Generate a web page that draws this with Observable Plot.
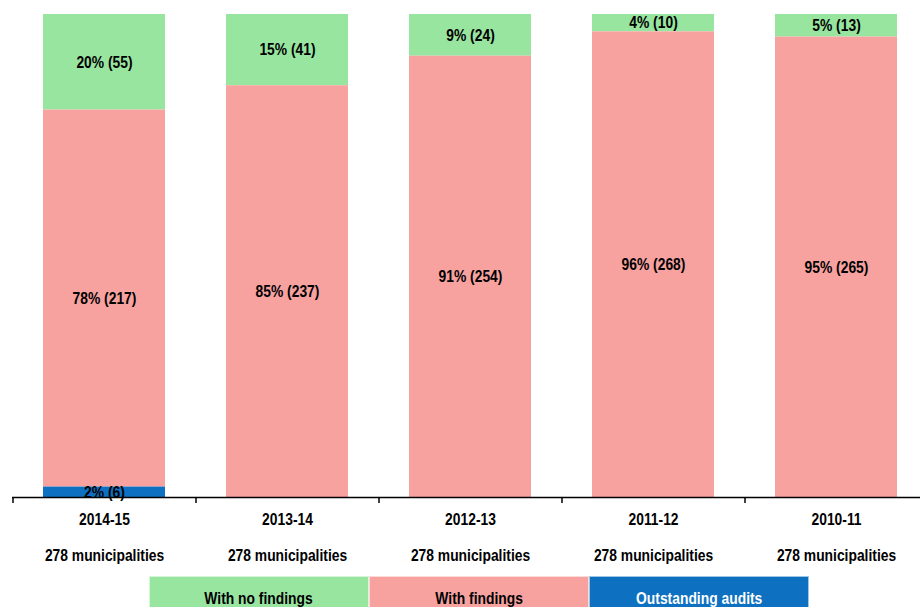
<!DOCTYPE html>
<html>
<head>
<meta charset="utf-8">
<script src="https://cdn.jsdelivr.net/npm/d3@7"></script>
<script src="https://cdn.jsdelivr.net/npm/@observablehq/plot@0.6"></script>
<style>
  html, body { margin: 0; padding: 0; background: #fff; overflow: hidden; }
  body { width: 920px; height: 607px; font-family: "Liberation Sans", Arial, sans-serif; }
  #legend { display: flex; margin: 4px 0 0 149px; }
  #legend div {
    width: 220px; height: 44px; box-sizing: border-box;
    display: flex; align-items: center; justify-content: center;
    font-weight: bold; font-size: 16.5px; color: #000;
    border: 1px solid rgba(255,255,255,0.6);
  }
  #legend span { display: inline-block; transform: scaleX(0.84); }
</style>
</head>
<body>
<div id="chart"></div>
<div id="legend"></div>
<script>
// Audit outcomes per financial year (number of municipalities)
const years = ["2014-15", "2013-14", "2012-13", "2011-12", "2010-11"];
const totals = [278, 278, 278, 278, 278];
const noFindings = [55, 41, 24, 10, 13];
const withFindings = [217, 237, 254, 268, 265];
const outstanding = [6, 0, 0, 0, 0];

const seriesNames = ["With no findings", "With findings", "Outstanding audits"];
const seriesColors = ["#98E5A0", "#F8A2A0", "#0E70C0"];
const stackOrder = ["Outstanding audits", "With findings", "With no findings"];

const rows = [];
years.forEach((year, i) => {
  const vals = [noFindings[i], withFindings[i], outstanding[i]];
  seriesNames.forEach((s, j) => {
    if (vals[j] > 0) rows.push({year, series: s, value: vals[j], total: totals[i]});
  });
});

const font = '"Liberation Sans", Arial, sans-serif';
const fs = 16.5;
const label = d => `${Math.round(d.value / d.total * 100)}% (${d.value})`;

const chart = Plot.plot({
  width: 920,
  height: 572,
  marginTop: 14,
  marginBottom: 75,
  marginLeft: 12,
  marginRight: -7,
  style: {fontFamily: font, background: "#fff"},
  x: {domain: years, paddingInner: 1 / 3, paddingOuter: 1 / 6, axis: null},
  y: {domain: [0, 278], axis: null},
  color: {domain: seriesNames, range: seriesColors},
  marks: [
    Plot.barY(rows, Plot.stackY({
      x: "year", y: "value", fill: "series", z: "series", order: stackOrder
    })),
    Plot.text(rows, Plot.stackY({
      x: "year", y: "value", z: "series", order: stackOrder,
      text: label, fontWeight: "bold", fontSize: fs, fill: "#000"
    })),
    Plot.ruleY([0], {stroke: "#000", strokeWidth: 1.5}),
    Plot.ruleX(years, {x: d => d, y1: 0, y2: 0, dx: -91.5, insetBottom: -6, stroke: "#000", strokeWidth: 1.5}),
    Plot.text(years, {x: d => d, y: 0, dy: 22, text: d => d, fontWeight: "bold", fontSize: fs, fill: "#000"}),
    Plot.text(years, {x: d => d, y: 0, dy: 58, text: (d, i) => `${totals[i]} municipalities`, fontWeight: "bold", fontSize: fs, fill: "#000"})
  ]
});

// Condensed lettering: squeeze each label horizontally about its anchor point
chart.querySelectorAll("text").forEach(t => {
  const tr = t.getAttribute("transform") || "";
  t.setAttribute("transform", `${tr} scale(0.84,1)`.trim());
});
document.getElementById("chart").appendChild(chart);

const legend = document.getElementById("legend");
seriesNames.forEach((s, i) => {
  const box = document.createElement("div");
  const span = document.createElement("span");
  span.textContent = s;
  box.appendChild(span);
  box.style.background = seriesColors[i];
  if (s === "Outstanding audits") box.style.color = "#fff";
  legend.appendChild(box);
});
</script>
</body>
</html>
